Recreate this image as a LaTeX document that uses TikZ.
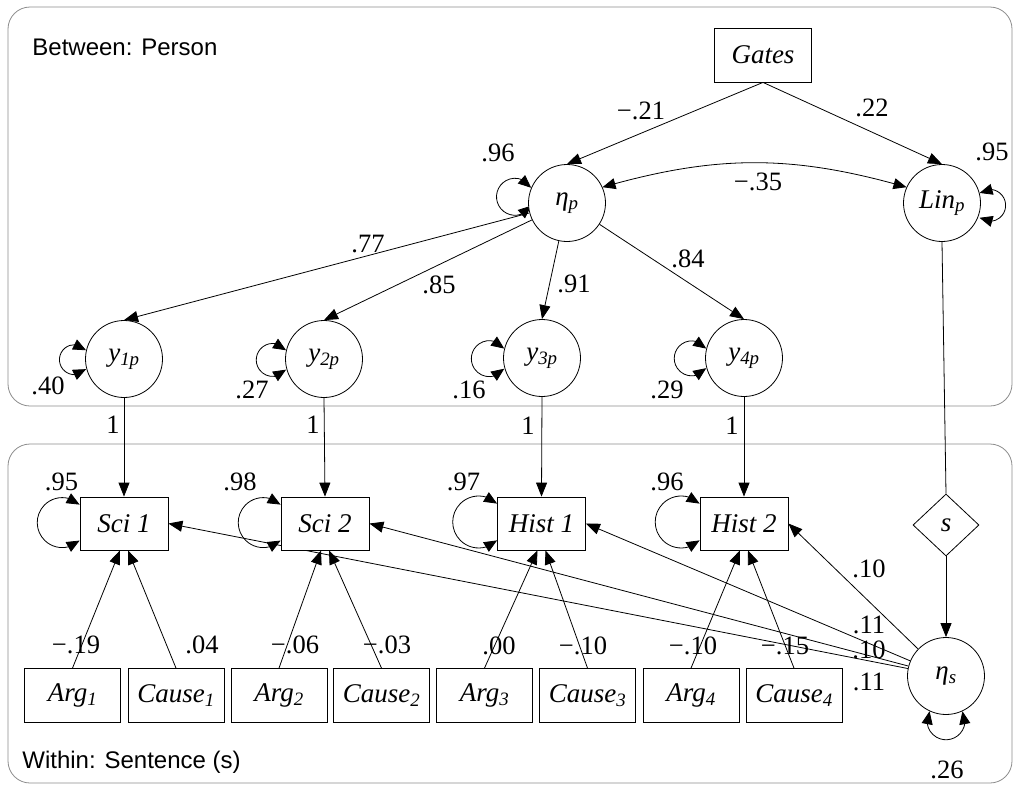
\documentclass[tikz,border=0pt]{standalone}
\usepackage{fontspec}
\setmainfont{Liberation Serif}
\newfontfamily\panelfont{Liberation Sans}
\usetikzlibrary{arrows.meta,bending,shapes.geometric}
\pgfdeclarelayer{edges}
\pgfsetlayers{edges,main}
\newcommand\lblfont{\fontsize{27}{32}\selectfont\itshape}
\newcommand\numfont{\fontsize{26.5}{32}\selectfont}
\newcommand\titlefont{\panelfont\fontsize{24}{28}\selectfont}
\tikzset{
  lat/.style={circle, draw, fill=white, minimum size=77pt, inner sep=0pt, font=\lblfont},
  obs/.style={rectangle, draw, fill=white, minimum width=88pt, minimum height=53pt, inner sep=0pt, font=\lblfont},
  cov/.style={rectangle, draw, fill=white, minimum width=96pt, minimum height=54pt, inner sep=0pt, font=\lblfont},
  arr/.style={-{Triangle[length=14pt,width=11pt]}},
  dbl/.style={{Triangle[length=13pt,width=11pt]}-{Triangle[length=13pt,width=11pt]}},
  coef/.style={font=\numfont, inner sep=0pt},
  panel/.style={draw=black!45, rounded corners=22pt, line width=0.8pt},
  title/.style={font=\titlefont, anchor=west, inner sep=0pt},
  every path/.style={line width=0.8pt},
}
\begin{document}
\begin{tikzpicture}[x=1pt,y=1pt]
\useasboundingbox (0,0) rectangle (1013,-785);

% ---------- nodes: between level ----------
\node[cov, minimum width=97pt] (gates) at (763,-55) {Gates};
\node[lat] (etap) at (567,-203) {η\textsubscript{p}};
\node[lat] (linp) at (942,-203) {Lin\textsubscript{p}};
\node[lat] (y1p) at (124,-359) {y\textsubscript{1p}};
\node[lat] (y2p) at (324,-359) {y\textsubscript{2p}};
\node[lat] (y3p) at (542,-358) {y\textsubscript{3p}};
\node[lat] (y4p) at (744,-358) {y\textsubscript{4p}};

% ---------- nodes: within level ----------
\node[obs] (sci1) at (124,-523.5) {Sci 1};
\node[obs] (sci2) at (325,-523.5) {Sci 2};
\node[obs] (hist1) at (541.5,-523.5) {Hist 1};
\node[obs] (hist2) at (744,-523.5) {Hist 2};
\node[diamond, draw, fill=white, minimum width=66pt, minimum height=62pt, inner sep=0pt, font=\lblfont] (s) at (946,-525) {s};
\node[lat] (etas) at (946,-676) {η\textsubscript{s}};

\node[cov] (arg1) at (72.5,-695.5) {Arg\textsubscript{1}};
\node[cov] (cause1) at (176,-695.5) {Cause\textsubscript{1}};
\node[cov] (arg2) at (279,-695.5) {Arg\textsubscript{2}};
\node[cov] (cause2) at (381.5,-695.5) {Cause\textsubscript{2}};
\node[cov] (arg3) at (484.5,-695.5) {Arg\textsubscript{3}};
\node[cov] (cause3) at (587.5,-695.5) {Cause\textsubscript{3}};
\node[cov] (arg4) at (691,-695.5) {Arg\textsubscript{4}};
\node[cov] (cause4) at (794,-695.5) {Cause\textsubscript{4}};

% ---------- panel titles ----------
\node[title] (between) at (32,-47) {Between: Person};
\node[title] (within) at (22,-762) {Within: Sentence (s)};

% ---------- coefficients ----------
\node[coef] (cg1) at (641,-111) {−.21};
\node[coef] (cg2) at (872,-108) {.22};
\node[coef] (ve1) at (498,-153) {.96};
\node[coef] (ve2) at (992,-152) {.95};
\node[coef] (cv) at (758,-182) {−.35};
\node[coef] (l1) at (368,-244) {.77};
\node[coef] (l2) at (439,-285) {.85};
\node[coef] (l3) at (574,-284) {.91};
\node[coef] (l4) at (688,-259) {.84};
\node[coef] (vy1) at (48,-386) {.40};
\node[coef] (vy2) at (252,-390) {.27};
\node[coef] (vy3) at (469,-390) {.16};
\node[coef] (vy4) at (667,-390) {.29};
\node[coef] (f1) at (113,-425) {1};
\node[coef] (f2) at (313,-425) {1};
\node[coef] (f3) at (528,-426) {1};
\node[coef] (f4) at (732,-426) {1};
\node[coef] (vo1) at (61.5,-482) {.95};
\node[coef] (vo2) at (240,-482) {.98};
\node[coef] (vo3) at (463.5,-482) {.97};
\node[coef] (vo4) at (667,-482) {.96};
\node[coef] (b1) at (76,-645) {−.19};
\node[coef] (b2) at (202,-645) {.04};
\node[coef] (b3) at (295,-645) {−.06};
\node[coef] (b4) at (387,-645) {−.03};
\node[coef] (b5) at (499,-646) {.00};
\node[coef] (b6) at (583,-646) {−.10};
\node[coef] (b7) at (693,-646) {−.10};
\node[coef] (b8) at (785,-646) {−.15};
\node[coef] (w1) at (869,-569) {.10};
\node[coef] (w2) at (869,-625) {.11};
\node[coef] (w3) at (869,-650) {.10};
\node[coef] (w4) at (869,-682) {.11};
\node[coef] (ves) at (947,-770) {.26};

\begin{pgfonlayer}{edges}
  % level panels
  \draw[panel] (8,-7) rectangle (1012,-406);
  \draw[panel] (8,-444) rectangle (1012,-783);

  % structural paths
  \draw[arr] (gates.south) -- (etap.north);
  \draw[arr] (gates.south) -- (linp.north);
  \draw[dbl] (etap.24) to[bend left=16] (linp.156);
  \draw[arr] (etap) -- (y1p.north);
  \draw[arr] (etap) -- (y2p.north);
  \draw[arr] (etap) -- (y3p.north);
  \draw[arr] (etap) -- (y4p.north);

  % cross-level links
  \draw[arr] (y1p.south) -- (sci1.north);
  \draw[arr] (y2p.south) -- (sci2.north);
  \draw[arr] (y3p.south) -- (hist1.north);
  \draw[arr] (y4p.south) -- (hist2.north);
  \draw (linp.south) -- (s.north);
  \draw[arr] (s.south) -- (etas.north);

  % sentence-level factor loadings
  \draw[arr] (etas) -- (hist2.east);
  \draw[arr] (etas) -- (hist1.east);
  \draw[arr] (etas) -- (sci2.east);
  \draw[arr] (etas) -- (sci1.east);

  % covariate effects
  \draw[arr] (arg1.north) -- ([xshift=-4pt]sci1.south);
  \draw[arr] (cause1.north) -- ([xshift=4pt]sci1.south);
  \draw[arr] (arg2.north) -- ([xshift=-4pt]sci2.south);
  \draw[arr] (cause2.north) -- ([xshift=4pt]sci2.south);
  \draw[arr] (arg3.north) -- ([xshift=-4pt]hist1.south);
  \draw[arr] (cause3.north) -- ([xshift=4pt]hist1.south);
  \draw[arr] (arg4.north) -- ([xshift=-4pt]hist2.south);
  \draw[arr] (cause4.north) -- ([xshift=4pt]hist2.south);

  % residual variances
  \draw[dbl] (etap.157) arc[start angle=29, end angle=331, radius=18.5];
  \draw[dbl] (linp.15) arc[start angle=129, end angle=-129, radius=16];
  \draw[dbl] (y1p.167) arc[start angle=39, end angle=321, radius=15];
  \draw[dbl] (y2p.167) arc[start angle=36, end angle=324, radius=16.5];
  \draw[dbl] (y3p.166) arc[start angle=34, end angle=326, radius=18];
  \draw[dbl] (y4p.166) arc[start angle=34, end angle=326, radius=17.5];
  \draw[dbl] ([yshift=-8pt]sci1.north west) arc[start angle=46, end angle=314, radius=25];
  \draw[dbl] ([yshift=-8pt]sci2.north west) arc[start angle=46, end angle=314, radius=25];
  \draw[dbl] ([yshift=-7pt]hist1.north west) arc[start angle=45, end angle=315, radius=26];
  \draw[dbl] ([yshift=-7pt]hist2.north west) arc[start angle=45, end angle=315, radius=26];
  \draw[dbl] (etas.245) arc[start angle=150, end angle=390, radius=19];
\end{pgfonlayer}
\end{tikzpicture}
\end{document}
